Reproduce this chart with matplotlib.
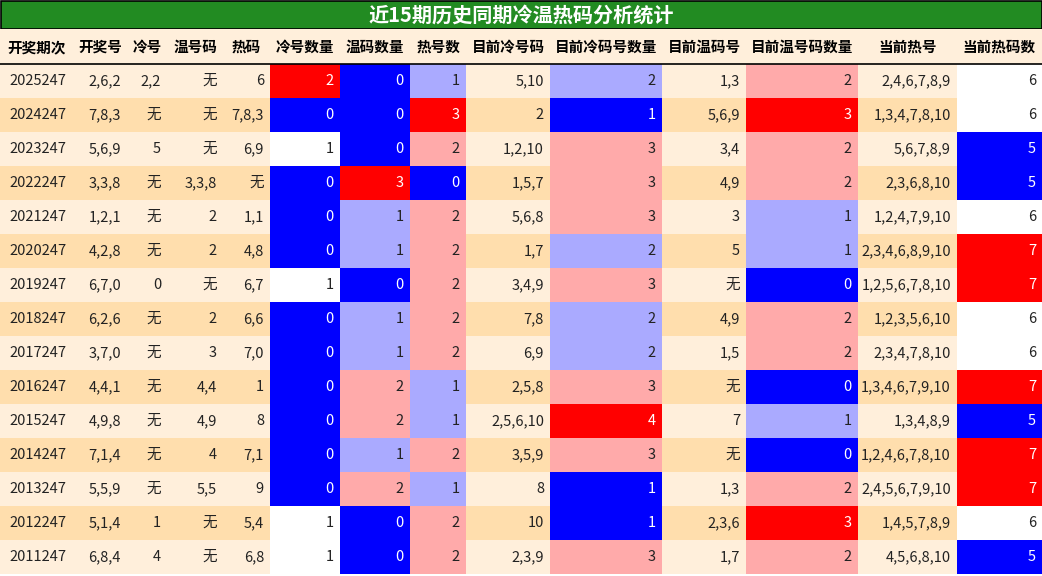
import matplotlib
matplotlib.use("Agg")
import matplotlib.pyplot as plt
from matplotlib.patches import Rectangle

plt.rcParams['font.family'] = ['Noto Sans CJK SC', 'DejaVu Sans']

title = "近15期历史同期冷温热码分析统计"
headers = ["开奖期次","开奖号","冷号","温号码","热码","冷号数量","温码数量","热号数",
           "目前冷号码","目前冷码号数量","目前温码号","目前温号码数量","当前热号","当前热码数"]
periods = ["2025247","2024247","2023247","2022247","2021247","2020247","2019247","2018247",
           "2017247","2016247","2015247","2014247","2013247","2012247","2011247"]
draws = ["2,6,2","7,8,3","5,6,9","3,3,8","1,2,1","4,2,8","6,7,0","6,2,6","3,7,0","4,4,1",
         "4,9,8","7,1,4","5,5,9","5,1,4","6,8,4"]
cold = ["2,2","无","5","无","无","无","0","无","无","无","无","无","无","1","4"]
warm = ["无","无","无","3,3,8","2","2","无","2","3","4,4","4,9","4","5,5","无","无"]
hot = ["6","7,8,3","6,9","无","1,1","4,8","6,7","6,6","7,0","1","8","7,1","9","5,4","6,8"]
cold_n = [2,0,1,0,0,0,1,0,0,0,0,0,0,1,1]
warm_n = [0,0,0,3,1,1,0,1,1,2,2,1,2,0,0]
hot_n = [1,3,2,0,2,2,2,2,2,1,1,2,1,2,2]
cur_cold = ["5,10","2","1,2,10","1,5,7","5,6,8","1,7","3,4,9","7,8","6,9","2,5,8","2,5,6,10",
            "3,5,9","8","10","2,3,9"]
cur_cold_n = [2,1,3,3,3,2,3,2,2,3,4,3,1,1,3]
cur_warm = ["1,3","5,6,9","3,4","4,9","3","5","无","4,9","1,5","无","7","无","1,3","2,3,6","1,7"]
cur_warm_n = [2,3,2,2,1,1,0,2,2,0,1,0,2,3,2]
cur_hot = ["2,4,6,7,8,9","1,3,4,7,8,10","5,6,7,8,9","2,3,6,8,10","1,2,4,7,9,10","2,3,4,6,8,9,10",
           "1,2,5,6,7,8,10","1,2,3,5,6,10","2,3,4,7,8,10","1,3,4,6,7,9,10","1,3,4,8,9",
           "1,2,4,6,7,8,10","2,4,5,6,7,9,10","1,4,5,7,8,9","4,5,6,8,10"]
cur_hot_n = [6,6,5,5,6,7,7,6,6,7,5,7,7,6,5]

RED, BLUE, LB, PK, WH = "#FF0000", "#0000FF", "#AAAAFF", "#FFAAAA", "#FFFFFF"
cmap = {
    5: {0: BLUE, 1: WH, 2: RED},
    6: {0: BLUE, 1: LB, 2: PK, 3: RED},
    7: {0: BLUE, 1: LB, 2: PK, 3: RED},
    9: {1: BLUE, 2: LB, 3: PK, 4: RED},
    11: {0: BLUE, 1: LB, 2: PK, 3: RED},
    13: {5: BLUE, 6: WH, 7: RED},
}

cols = [periods, draws, cold, warm, hot, cold_n, warm_n, hot_n, cur_cold, cur_cold_n,
        cur_warm, cur_warm_n, cur_hot, cur_hot_n]
edges = [0,73,127,167,223,270,340,410,466,550,662,746,858,957,1042]

W, H = 1042, 576
fig = plt.figure(figsize=(W/100, H/100), dpi=100)
ax = fig.add_axes([0,0,1,1])
ax.set_xlim(0, W); ax.set_ylim(H, 0); ax.axis('off')

ax.add_patch(Rectangle((0.5,0.5), W-1, 28.5, facecolor="#228B22", edgecolor="black", lw=1.2))
ax.text(W/2, 15, title, color="white", fontsize=14.5, fontweight="bold", ha="center", va="center")
ax.add_patch(Rectangle((0,29), W, 35, facecolor="#FFEFDB", edgecolor="none"))
for j, h in enumerate(headers):
    ax.text((edges[j]+edges[j+1])/2, 47, h, fontsize=10.5, fontweight="bold", ha="center", va="center")
ax.plot([0, W], [64, 64], color="black", lw=1.2)

rh = 34
for i in range(15):
    y0 = 64 + i*rh
    bg = "#FFEFDB" if i % 2 == 0 else "#FFDEAD"
    ax.add_patch(Rectangle((0, y0), W, rh, facecolor=bg, edgecolor="none"))
    for j, col in enumerate(cols):
        v = col[i]
        tc = "#222222"
        if j in cmap:
            c = cmap[j][v]
            ax.add_patch(Rectangle((edges[j], y0), edges[j+1]-edges[j], rh, facecolor=c, edgecolor="none"))
            if c in (RED, BLUE):
                tc = "white"
        if j == 0:
            ax.text(edges[j]+9, y0+rh/2, str(v), fontsize=10.5, ha="left", va="center", color=tc)
        else:
            ax.text(edges[j+1]-6, y0+rh/2, str(v), fontsize=10.5, ha="right", va="center", color=tc)

fig.savefig("out.png", dpi=100)
